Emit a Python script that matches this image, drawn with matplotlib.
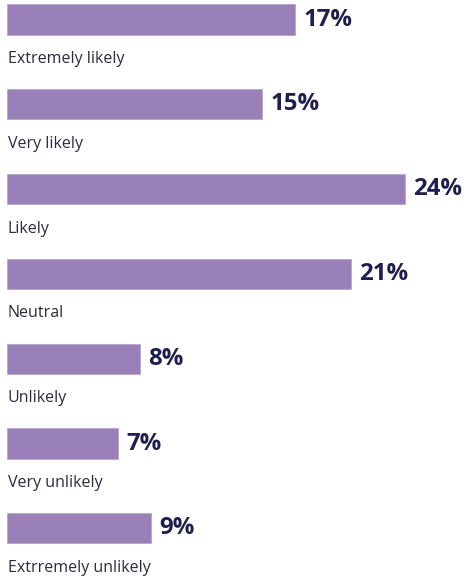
import matplotlib
matplotlib.use('Agg')
import matplotlib.pyplot as plt

# Data
categories = ['Extremely likely', 'Very likely', 'Likely', 'Neutral',
              'Unlikely', 'Very unlikely', 'Extrremely unlikely']
values = [17.35, 15.36, 23.98, 20.72, 8.01, 6.69, 8.67]
value_labels = ['17%', '15%', '24%', '21%', '8%', '7%', '9%']

bar_color = '#9a80b9'
value_color = '#1f1f4d'
label_color = '#2b2b40'

plt.rcParams['font.family'] = ['Open Sans', 'DejaVu Sans']

fig = plt.figure(figsize=(4.66, 5.78), dpi=100)
ax = fig.add_axes([0, 0, 1, 1])

ypos = list(range(len(categories)))
ax.barh(ypos, values, height=0.355, color=bar_color, edgecolor='#b7a6cf', linewidth=0.6)

for i, (v, lab, cat) in enumerate(zip(values, value_labels, categories)):
    ax.text(v + 0.5, i, lab, va='center', ha='left', fontsize=17.3,
            fontweight='bold', color=value_color)
    ax.text(0.05, i + 0.465, cat, va='center', ha='left', fontsize=11.5,
            color=label_color)

ax.set_xlim(-0.42, 27.65)
ax.set_ylim(6.586, -0.23)
ax.axis('off')

fig.savefig('out.png', dpi=100)
